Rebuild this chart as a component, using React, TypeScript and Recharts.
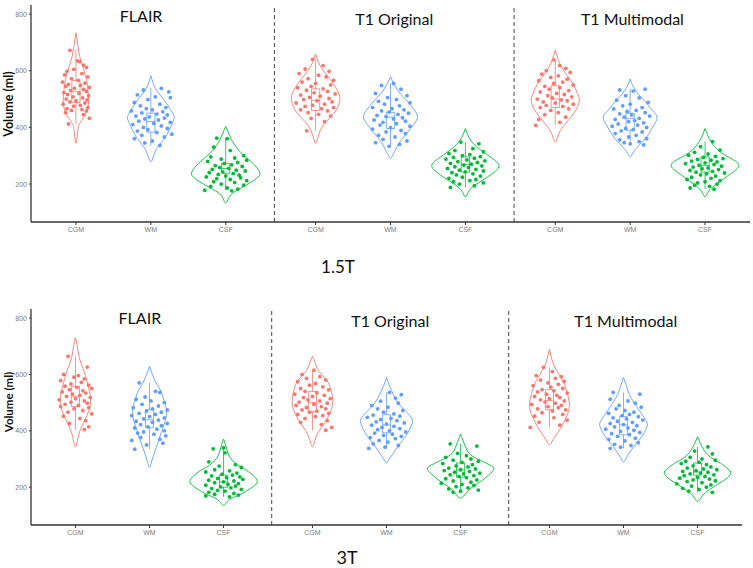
import React from 'react';
import { ComposedChart, Line, Scatter, XAxis, YAxis, ReferenceLine, ReferenceDot } from 'recharts';

const categories = ['CGM', 'WM', 'CSF'];
const facets = ['FLAIR', 'T1 Original', 'T1 Multimodal'];
const colors = ['#F8766D', '#619CFF', '#00BA38'];
const yTicks = [200, 400, 600, 800];

// violin outlines, [volume, density] from top tip to bottom tip (facet by facet, CGM/WM/CSF)
const violins15 = [
  [[734, 0], [690, 2], [650, 4], [615, 7], [580, 10], [545, 12], [510, 13], [480, 13], [455, 11], [435, 8], [415, 4], [390, 2], [344, 0]],
  [[582, 0], [560, 2], [530, 6], [500, 13], [470, 19], [440, 24], [420, 23], [390, 19], [360, 14], [330, 7], [300, 3], [278, 0]],
  [[403, 0], [380, 3], [350, 7], [310, 16], [280, 26], [250, 34], [230, 35], [210, 28], [190, 18], [170, 8], [150, 3], [133, 0]],
  [[659, 0], [630, 3], [600, 8], [570, 15], [540, 21], [510, 25], [480, 24], [450, 19], [420, 11], [390, 5], [360, 2], [344, 0]],
  [[579, 0], [550, 4], [520, 10], [490, 18], [460, 25], [435, 28], [410, 24], [380, 17], [350, 10], [320, 5], [300, 2], [290, 0]],
  [[396, 0], [370, 3], [340, 9], [310, 20], [285, 30], [265, 35], [245, 31], [225, 23], [205, 14], [185, 6], [165, 2], [154, 0]],
  [[673, 0], [640, 3], [610, 7], [580, 13], [550, 19], [520, 23], [495, 25], [465, 22], [440, 17], [410, 10], [380, 4], [348, 0]],
  [[571, 0], [545, 3], [515, 9], [490, 16], [460, 23], [435, 28], [405, 24], [375, 19], [350, 13], [325, 6], [305, 2], [296, 0]],
  [[396, 0], [370, 3], [340, 8], [310, 17], [290, 27], [270, 35], [250, 32], [230, 24], [210, 16], [190, 8], [170, 3], [155, 0]],
];

const violins3 = [
  [[730, 0], [700, 2], [660, 4], [620, 8], [590, 11], [550, 14], [510, 16], [470, 14], [440, 10], [410, 6], [380, 3], [343, 0]],
  [[629, 0], [600, 3], [570, 7], [540, 12], [500, 16], [465, 18], [430, 16], [400, 13], [370, 10], [340, 7], [300, 3], [271, 0]],
  [[371, 0], [340, 3], [310, 6], [280, 14], [260, 24], [235, 33], [215, 35], [195, 28], [175, 18], [160, 8], [145, 3], [136, 0]],
  [[664, 0], [640, 3], [610, 7], [580, 15], [550, 19], [520, 21], [490, 21], [460, 18], [430, 13], [400, 7], [370, 3], [343, 0]],
  [[589, 0], [560, 3], [530, 7], [500, 12], [470, 20], [440, 27], [410, 25], [380, 20], [350, 13], [320, 7], [300, 3], [286, 0]],
  [[389, 0], [370, 2], [345, 5], [320, 9], [300, 18], [280, 30], [264, 35], [245, 30], [225, 23], [205, 14], [180, 6], [161, 0]],
  [[689, 0], [660, 2], [630, 5], [600, 10], [570, 15], [530, 19], [490, 21], [460, 19], [430, 15], [400, 10], [370, 4], [350, 0]],
  [[589, 0], [560, 3], [530, 6], [500, 11], [470, 17], [440, 23], [420, 25], [395, 22], [370, 17], [345, 11], [310, 4], [289, 0]],
  [[379, 0], [355, 3], [330, 7], [305, 14], [285, 24], [265, 32], [250, 35], [230, 30], [210, 21], [190, 12], [170, 5], [150, 0]],
];

// boxplot stats [lower whisker, q1, median, q3, upper whisker]
const boxes15 = [
  [410, 488, 526, 565, 675], [335, 383, 421, 450, 540], [178, 238, 255, 273, 362],
  [388, 460, 495, 536, 640], [333, 396, 436, 453, 555], [188, 242, 270, 296, 348],
  [407, 470, 500, 547, 638], [338, 390, 432, 450, 535], [182, 242, 265, 296, 350],
];

const boxes3 = [
  [404, 486, 521, 557, 664], [335, 411, 439, 475, 570], [166, 200, 218, 243, 340],
  [402, 468, 500, 539, 615], [338, 393, 421, 457, 536], [182, 236, 261, 286, 354],
  [412, 475, 507, 546, 625], [338, 386, 421, 450, 536], [182, 243, 254, 286, 343],
];

// jittered subjects, [jitter (1/100 of a category), volume]
const flairPts15 = [
  [[-8, 672], [2, 635], [5, 632], [10, 620], [14, 612], [-3, 605], [-12, 598], [8, 590], [-15, 585], [16, 578], [-6, 572], [3, 566], [-18, 560], [12, 556], [-10, 552], [6, 548], [-14, 545], [18, 541], [-2, 538], [10, 534], [-7, 530], [14, 527], [-16, 523], [4, 520], [-11, 516], [17, 512], [-4, 508], [9, 504], [-13, 500], [15, 497], [0, 494], [-8, 490], [12, 486], [-17, 482], [6, 478], [-3, 475], [16, 470], [-12, 466], [8, 463], [-6, 460], [14, 458], [-14, 452], [10, 445], [18, 432], [-10, 412]],
  [[14, 538], [-10, 532], [24, 525], [-18, 515], [6, 508], [26, 505], [-4, 498], [-22, 488], [12, 482], [-14, 476], [20, 470], [-6, 466], [2, 462], [-26, 458], [16, 455], [-12, 451], [8, 447], [22, 444], [-20, 440], [-2, 437], [18, 433], [-8, 430], [10, 426], [-16, 422], [26, 418], [4, 414], [-24, 410], [14, 405], [-10, 400], [22, 396], [-4, 392], [-18, 387], [8, 382], [28, 376], [-12, 372], [18, 366], [-22, 360], [2, 352], [-8, 345], [12, 336]],
  [[-12, 362], [2, 360], [-16, 330], [6, 318], [24, 300], [-20, 296], [12, 292], [-6, 288], [28, 284], [-24, 280], [16, 276], [-2, 272], [8, 268], [-14, 265], [22, 262], [-8, 258], [4, 255], [-18, 252], [14, 249], [26, 246], [-4, 243], [-22, 240], [10, 237], [-10, 234], [18, 231], [0, 228], [-26, 225], [20, 222], [-12, 219], [6, 216], [28, 212], [-16, 208], [12, 205], [-6, 200], [24, 196], [-20, 192], [2, 186], [16, 182], [-28, 178], [8, 176]],
];

const t1oPts15 = [
  [[-4, 640], [10, 618], [-14, 606], [18, 598], [-22, 590], [4, 584], [14, 578], [-10, 572], [24, 566], [-18, 560], [0, 555], [20, 550], [-6, 545], [-24, 540], [10, 536], [-12, 531], [16, 527], [-2, 522], [26, 518], [-20, 514], [6, 510], [-8, 506], [18, 502], [-16, 498], [2, 494], [22, 490], [-26, 486], [12, 482], [-4, 478], [-14, 474], [24, 470], [8, 466], [-20, 462], [16, 458], [-10, 452], [4, 446], [20, 440], [-6, 432], [12, 420], [-12, 388]],
  [[4, 555], [-12, 548], [14, 535], [-20, 520], [22, 512], [-4, 505], [8, 498], [-16, 492], [26, 487], [-8, 482], [12, 476], [-24, 470], [2, 466], [18, 462], [-12, 458], [-2, 454], [24, 450], [10, 446], [-18, 442], [-6, 438], [16, 434], [4, 430], [-22, 426], [20, 422], [-10, 418], [8, 413], [-14, 408], [26, 404], [0, 399], [-24, 394], [14, 389], [-6, 384], [20, 378], [-16, 372], [6, 366], [-10, 358], [22, 352], [-20, 346], [12, 340], [-2, 333]],
  [[-6, 348], [18, 342], [10, 325], [-14, 318], [24, 314], [-22, 308], [6, 304], [-4, 300], [20, 297], [-16, 294], [12, 291], [-26, 288], [2, 285], [26, 282], [-10, 279], [16, 276], [-20, 273], [8, 270], [-2, 267], [22, 264], [-14, 261], [4, 258], [-24, 255], [14, 252], [-8, 249], [24, 246], [0, 243], [-18, 240], [10, 236], [-12, 232], [20, 228], [-4, 224], [-22, 220], [14, 216], [6, 212], [-16, 208], [24, 204], [-8, 200], [12, 194], [-20, 188]],
];

const t1mPts15 = [
  [[-2, 638], [6, 618], [14, 608], [-12, 600], [20, 594], [-18, 588], [4, 582], [-6, 576], [16, 570], [-22, 565], [10, 560], [-2, 555], [24, 550], [-14, 545], [6, 540], [-8, 535], [18, 530], [-20, 525], [2, 520], [12, 516], [-10, 512], [22, 508], [-4, 504], [-24, 500], [8, 497], [16, 494], [-16, 490], [0, 486], [24, 482], [-12, 478], [10, 474], [-20, 470], [18, 465], [-6, 460], [4, 452], [-14, 445], [14, 436], [-22, 428], [6, 418], [-26, 407]],
  [[20, 535], [-14, 532], [4, 528], [-6, 512], [12, 504], [-18, 496], [24, 488], [0, 482], [-10, 476], [16, 470], [-22, 465], [8, 460], [-4, 456], [20, 452], [-14, 448], [2, 444], [26, 440], [-8, 436], [12, 432], [-20, 428], [6, 424], [-2, 420], [18, 416], [-16, 412], [10, 408], [-24, 404], [22, 400], [-6, 396], [4, 392], [-12, 388], [16, 384], [-20, 378], [8, 372], [-2, 366], [22, 360], [-14, 356], [12, 350], [-8, 346], [0, 342], [18, 338]],
  [[10, 350], [-6, 332], [20, 320], [-14, 312], [4, 306], [-22, 302], [14, 298], [-2, 294], [24, 290], [-10, 287], [8, 284], [-18, 281], [16, 278], [0, 275], [-26, 272], [12, 269], [-8, 266], [22, 263], [-16, 260], [4, 257], [-4, 254], [18, 251], [-20, 248], [10, 245], [-12, 242], [26, 239], [2, 236], [-6, 232], [14, 228], [-18, 224], [8, 220], [-24, 216], [20, 212], [0, 208], [-10, 204], [16, 200], [-14, 196], [6, 192], [-20, 186], [12, 182]],
];

const flairPts3 = [
  [[-10, 664], [16, 626], [-16, 600], [4, 596], [-2, 590], [12, 584], [-20, 578], [8, 572], [-6, 566], [18, 562], [-14, 558], [2, 554], [22, 550], [-8, 546], [10, 542], [-18, 538], [14, 534], [-4, 530], [6, 526], [-12, 522], [20, 518], [0, 514], [-22, 510], [12, 506], [-6, 502], [16, 498], [-14, 494], [4, 490], [-20, 486], [18, 482], [-2, 478], [10, 472], [-10, 466], [22, 460], [-16, 452], [6, 444], [14, 436], [-8, 426], [18, 414], [12, 404]],
  [[-14, 570], [8, 540], [14, 536], [-6, 520], [-18, 512], [2, 506], [20, 500], [-10, 494], [12, 488], [-22, 482], [4, 478], [24, 474], [-4, 470], [16, 466], [-14, 462], [8, 458], [-24, 454], [0, 450], [20, 446], [-8, 442], [12, 438], [-18, 434], [4, 430], [24, 426], [-12, 422], [16, 418], [-2, 414], [-20, 410], [10, 406], [20, 400], [-8, 396], [-16, 392], [6, 388], [22, 382], [-12, 376], [14, 370], [-24, 366], [18, 356], [-4, 350], [-20, 335]],
  [[0, 340], [-14, 336], [2, 322], [-20, 290], [16, 280], [-6, 275], [24, 270], [-12, 262], [8, 258], [-24, 254], [18, 250], [-2, 246], [12, 243], [-16, 240], [22, 237], [4, 234], [-8, 231], [26, 228], [-20, 225], [14, 222], [0, 219], [-12, 216], [20, 213], [6, 210], [-24, 207], [16, 204], [-4, 201], [10, 198], [-16, 195], [24, 192], [-8, 189], [2, 186], [-20, 182], [14, 178], [-12, 175], [20, 172], [-24, 169], [8, 166]],
];

const t1oPts3 = [
  [[2, 615], [-14, 600], [10, 592], [-8, 586], [18, 580], [-20, 574], [4, 568], [-4, 562], [14, 556], [-16, 550], [22, 545], [-10, 540], [6, 535], [-24, 530], [16, 526], [0, 522], [-12, 518], [24, 514], [-6, 510], [10, 506], [-18, 502], [20, 498], [2, 494], [-22, 490], [12, 486], [-8, 482], [18, 478], [-14, 474], [6, 470], [-4, 466], [22, 462], [-20, 458], [14, 454], [4, 450], [-10, 444], [20, 436], [-16, 430], [12, 422], [26, 412], [18, 402]],
  [[4, 536], [20, 528], [12, 516], [-8, 505], [16, 498], [-20, 490], [2, 484], [-12, 478], [22, 472], [-4, 466], [10, 460], [-18, 456], [18, 452], [-26, 448], [6, 444], [-8, 440], [14, 436], [-14, 432], [24, 428], [0, 424], [-20, 420], [10, 416], [-6, 412], [18, 408], [-12, 404], [4, 400], [26, 396], [-16, 392], [8, 388], [-4, 384], [20, 380], [-22, 376], [12, 372], [-10, 366], [2, 360], [-18, 354], [16, 348], [-2, 342], [-24, 338]],
  [[-14, 354], [22, 346], [-4, 320], [8, 312], [-20, 306], [14, 300], [-10, 296], [24, 292], [2, 288], [-24, 284], [16, 280], [-6, 276], [10, 272], [-16, 268], [20, 265], [0, 262], [-22, 259], [12, 256], [-8, 253], [26, 250], [4, 247], [-14, 244], [18, 241], [-2, 238], [8, 234], [-20, 230], [22, 226], [-10, 222], [14, 218], [-26, 214], [2, 210], [18, 206], [-6, 202], [10, 198], [-16, 194], [24, 190], [0, 186], [-10, 182]],
];

const t1mPts3 = [
  [[-8, 625], [4, 610], [-18, 596], [16, 592], [8, 586], [-12, 580], [20, 575], [-2, 570], [12, 565], [-22, 560], [2, 555], [18, 550], [-10, 546], [6, 542], [-16, 538], [24, 534], [-4, 530], [10, 526], [-20, 522], [14, 518], [0, 514], [-12, 510], [20, 506], [-6, 502], [8, 498], [-24, 494], [16, 490], [-2, 486], [12, 482], [-16, 478], [22, 474], [4, 470], [-10, 464], [18, 458], [-20, 452], [6, 446], [24, 438], [-14, 430], [14, 420], [-26, 412]],
  [[-14, 536], [22, 530], [-18, 512], [6, 506], [16, 498], [-6, 490], [24, 484], [-10, 478], [2, 472], [14, 466], [-20, 462], [8, 458], [-2, 454], [20, 450], [-14, 446], [4, 442], [26, 438], [-8, 434], [12, 430], [-18, 426], [0, 422], [18, 418], [-12, 414], [6, 410], [-24, 406], [14, 402], [-4, 398], [22, 394], [-16, 390], [8, 386], [-8, 380], [16, 374], [-20, 370], [2, 364], [20, 358], [-12, 352], [10, 348], [-4, 342], [-18, 338]],
  [[14, 343], [-4, 328], [20, 318], [-10, 306], [6, 300], [24, 296], [-16, 292], [2, 288], [-22, 284], [12, 280], [-6, 276], [18, 272], [-14, 268], [8, 265], [26, 262], [-2, 259], [-20, 256], [14, 253], [4, 250], [-10, 247], [22, 244], [-18, 241], [10, 238], [0, 235], [-24, 232], [16, 229], [-6, 226], [24, 223], [-14, 220], [6, 216], [-28, 212], [18, 208], [-8, 204], [12, 200], [-20, 196], [2, 192], [-12, 186], [20, 182]],
];

// title anchor (x in category units, y in ml) for each facet
const titleX = [1.87, 5.25, 8.43];
const titleY15 = [792, 781, 781];
const titleY3 = [798, 789, 789];

const FACET_SPAN = 3.2;
const MAX_HALF = 0.45;
const MAX_DENS = 35;
const BOX_HALF = 0.055;
const xOf = (i: number) => Math.floor(i / 3) * FACET_SPAN + (i % 3) + 1;
const tickXs = [0, 1, 2, 3, 4, 5, 6, 7, 8].map(xOf);
const separators = [1, 2].map((f) => f * FACET_SPAN + 0.45);

function violinPath(profile: number[][], cx: number) {
  const right = profile.map(([v, d]) => ({ x: cx + (d / MAX_DENS) * MAX_HALF, y: v }));
  const left = profile
    .slice()
    .reverse()
    .map(([v, d]) => ({ x: cx - (d / MAX_DENS) * MAX_HALF, y: v }));
  return [...right, ...left.slice(1)];
}

function boxPath([lo, q1, med, q3, hi]: number[], cx: number) {
  const gap = { x: cx, y: null };
  return [
    { x: cx - BOX_HALF, y: q1 }, { x: cx + BOX_HALF, y: q1 }, { x: cx + BOX_HALF, y: q3 },
    { x: cx - BOX_HALF, y: q3 }, { x: cx - BOX_HALF, y: q1 }, gap,
    { x: cx - BOX_HALF, y: med }, { x: cx + BOX_HALF, y: med }, gap,
    { x: cx, y: q3 }, { x: cx, y: hi }, gap,
    { x: cx, y: q1 }, { x: cx, y: lo },
  ];
}

const tickStyle = { fontSize: 7, fill: '#7a7a7a', stroke: 'none', fontFamily: 'Liberation Sans, Arial, sans-serif' };

function Panel({ violins, boxes, points, titleY, width, height, margin }: any) {
  const dots = categories.map((_, c) =>
    points.flatMap((facetPts: number[][][], f: number) =>
      facetPts[c].map(([dx, v]) => ({ x: xOf(f * 3 + c) + dx / 100, y: v }))
    )
  );

  return (
    <ComposedChart width={width} height={height} margin={margin}>
      <XAxis
        dataKey="x"
        type="number"
        domain={[0.4, 10]}
        ticks={tickXs}
        interval={0}
        allowDataOverflow
        tickFormatter={(v: number) => categories[tickXs.findIndex((t) => Math.abs(t - v) < 1e-6) % 3]}
        axisLine={{ stroke: '#333', strokeWidth: 1.3 }}
        tickLine={{ stroke: '#333' }}
        tickSize={3}
        tick={tickStyle}
        height={16}
      />
      <YAxis
        dataKey="y"
        type="number"
        domain={[66, 832]}
        ticks={yTicks}
        allowDataOverflow
        axisLine={{ stroke: '#333', strokeWidth: 1.3 }}
        tickLine={{ stroke: '#333' }}
        tickSize={2}
        tick={tickStyle}
        width={31}
      />
      {separators.map((s) => (
        <ReferenceLine key={s} x={s} stroke="#444" strokeDasharray="4 3" strokeWidth={1} />
      ))}
      {violins.map((prof: number[][], i: number) => (
        <Line
          key={`v${i}`}
          data={violinPath(prof, xOf(i))}
          dataKey="y"
          type="natural"
          stroke={colors[i % 3]}
          strokeWidth={0.9}
          dot={false}
          activeDot={false}
          isAnimationActive={false}
        />
      ))}
      {dots.map((d, c) => (
        <Scatter
          key={`p${c}`}
          data={d}
          dataKey="y"
          isAnimationActive={false}
          shape={(p: any) => <circle cx={p.cx} cy={p.cy} r={1.9} fill={colors[c]} />}
        />
      ))}
      {boxes.map((b: number[], i: number) => (
        <Line
          key={`b${i}`}
          data={boxPath(b, xOf(i))}
          dataKey="y"
          type="linear"
          stroke={colors[i % 3]}
          strokeWidth={0.8}
          dot={false}
          activeDot={false}
          isAnimationActive={false}
        />
      ))}
      {facets.map((name, f) => (
        <ReferenceDot
          key={name}
          x={titleX[f]}
          y={titleY[f]}
          r={0}
          fill="none"
          stroke="none"
          label={{ value: name, position: 'center', fontSize: 16, fill: '#111', fontFamily: 'Lato, sans-serif' }}
        />
      ))}
    </ComposedChart>
  );
}

const yLabelStyle: React.CSSProperties = {
  position: 'absolute',
  transform: 'translate(-50%, -50%) rotate(-90deg)',
  whiteSpace: 'nowrap',
  fontWeight: 700,
  fontFamily: 'Lato, sans-serif',
  color: '#111',
};

const captionStyle: React.CSSProperties = {
  position: 'absolute',
  transform: 'translate(-50%, -50%)',
  fontFamily: 'Lato, sans-serif',
  color: '#111',
};

export default function App() {
  return (
    <div style={{ position: 'absolute', left: 0, top: 0, width: 753, height: 568, background: '#fff' }}>
      <div style={{ position: 'absolute', left: 0, top: 0 }}>
        <Panel
          violins={violins15}
          boxes={boxes15}
          points={[flairPts15, t1oPts15, t1mPts15]}
          titleY={titleY15}
          width={753}
          height={240}
          margin={{ top: 5, right: 3, left: 0, bottom: 2 }}
        />
      </div>
      <div style={{ ...yLabelStyle, left: 8, top: 104, fontSize: 12.5 }}>Volume (ml)</div>
      <div style={{ ...captionStyle, left: 338, top: 266, fontSize: 17 }}>1.5T</div>
      <div style={{ position: 'absolute', left: 0, top: 300 }}>
        <Panel
          violins={violins3}
          boxes={boxes3}
          points={[flairPts3, t1oPts3, t1mPts3]}
          titleY={titleY3}
          width={753}
          height={245}
          margin={{ top: 9, right: 11, left: 0, bottom: 4 }}
        />
      </div>
      <div style={{ ...yLabelStyle, left: 8, top: 402, fontSize: 11.5 }}>Volume (ml)</div>
      <div style={{ ...captionStyle, left: 347, top: 557, fontSize: 18 }}>3T</div>
    </div>
  );
}
